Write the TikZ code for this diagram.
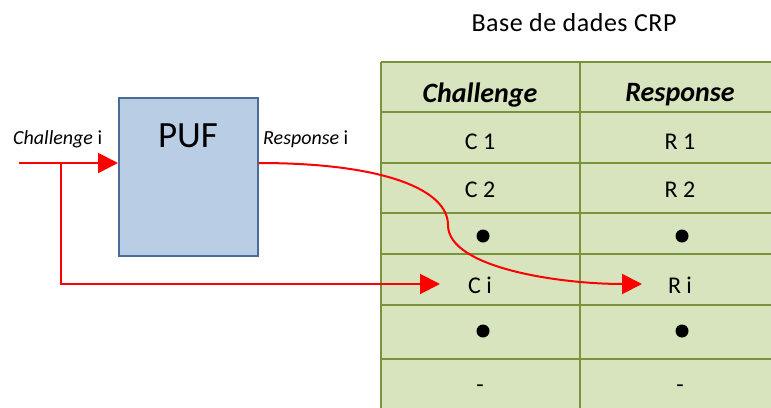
\documentclass[tikz,border=0pt]{standalone}
\usepackage{fontspec}
\setmainfont{Carlito}
\newfontfamily\wideface[LetterSpace=2.0]{Carlito}
\usetikzlibrary{arrows.meta}
\definecolor{pufFill}{HTML}{B9CDE5}
\definecolor{pufLine}{HTML}{4A6C98}
\definecolor{tabFill}{HTML}{D7E4BD}
\definecolor{tabLine}{HTML}{77933C}
\definecolor{wire}{HTML}{FF0000}
\tikzset{
  wireline/.style={draw=wire, line width=2pt},
  wirearrow/.style={wireline, -{Triangle[length=20pt,width=20pt]}},
  cell/.style={font=\fontsize{24}{26}\selectfont, inner sep=0pt},
  head/.style={font=\fontsize{28}{30}\selectfont\bfseries\itshape, inner sep=0pt},
  dotmark/.style={circle, fill=black, inner sep=0pt, minimum size=13pt},
  lbl/.style={font=\fontsize{20}{22}\selectfont, inner sep=0pt},
}
\begin{document}
\begin{tikzpicture}[x=1pt, y=-1pt]
\useasboundingbox (0,0) rectangle (771,407);
\clip (0,0) rectangle (771,407);
\fill[white] (0,0) rectangle (771,407);

% CRP database table
\node[font=\wideface\fontsize{26}{28}\selectfont, inner sep=0pt] (title) at (574,23) {Base de dades CRP};
\fill[tabFill] (381,62) rectangle (790,420);
\foreach \y in {62,112,163,213,254,305,359}
  \draw[tabLine, line width=2.5pt] (381,\y) -- (790,\y);
\draw[tabLine, line width=2.5pt] (381,62) -- (381,420);
\draw[tabLine, line width=2.5pt] (580,62) -- (580,420);

\node[head] (hc) at (480,95) {Challenge};
\node[head] (hr) at (680,95) {Response};
\node[cell] (c1) at (480,142) {C 1};
\node[cell] (r1) at (680,142) {R 1};
\node[cell] (c2) at (480,190) {C 2};
\node[cell] (r2) at (680,190) {R 2};
\node[dotmark] (cd1) at (483,236) {};
\node[dotmark] (rd1) at (682,236) {};
\node[cell] (ci) at (480,285) {C i};
\node[cell] (ri) at (680,285) {R i};
\node[dotmark] (cd2) at (483,331) {};
\node[dotmark] (rd2) at (682,331) {};
\node[cell] (cn) at (480,389) {-};
\node[cell] (rn) at (680,389) {-};

% PUF block
\node[draw=pufLine, fill=pufFill, line width=1.5pt, minimum width=139pt, minimum height=158pt, inner sep=0pt, anchor=north west] (puf) at (118,97) {};
\node[font=\fontsize{37}{39}\selectfont, inner sep=0pt] (puft) at (188,136) {PUF};

\node[lbl, anchor=west] (lc) at (13,139) {\textit{Challenge} i};
\node[lbl, anchor=west] (lr) at (263,139) {\textit{Response} i};

% wiring
\coordinate (in) at (19,163);
\coordinate (tap) at (61,163);
\coordinate (cin) at (440,284);
\coordinate (rin) at (642,284);
\coordinate (pin) at (puf.west |- in);
\coordinate (pout) at (puf.east |- in);
\draw[wirearrow] (in) -- (pin);
\draw[wirearrow] (tap) |- (cin);
\draw[wirearrow] (pout) .. controls (385,163) and (448,190) .. (448,225)
  .. controls (448,268) and (560,284) .. (rin);
\end{tikzpicture}
\end{document}
